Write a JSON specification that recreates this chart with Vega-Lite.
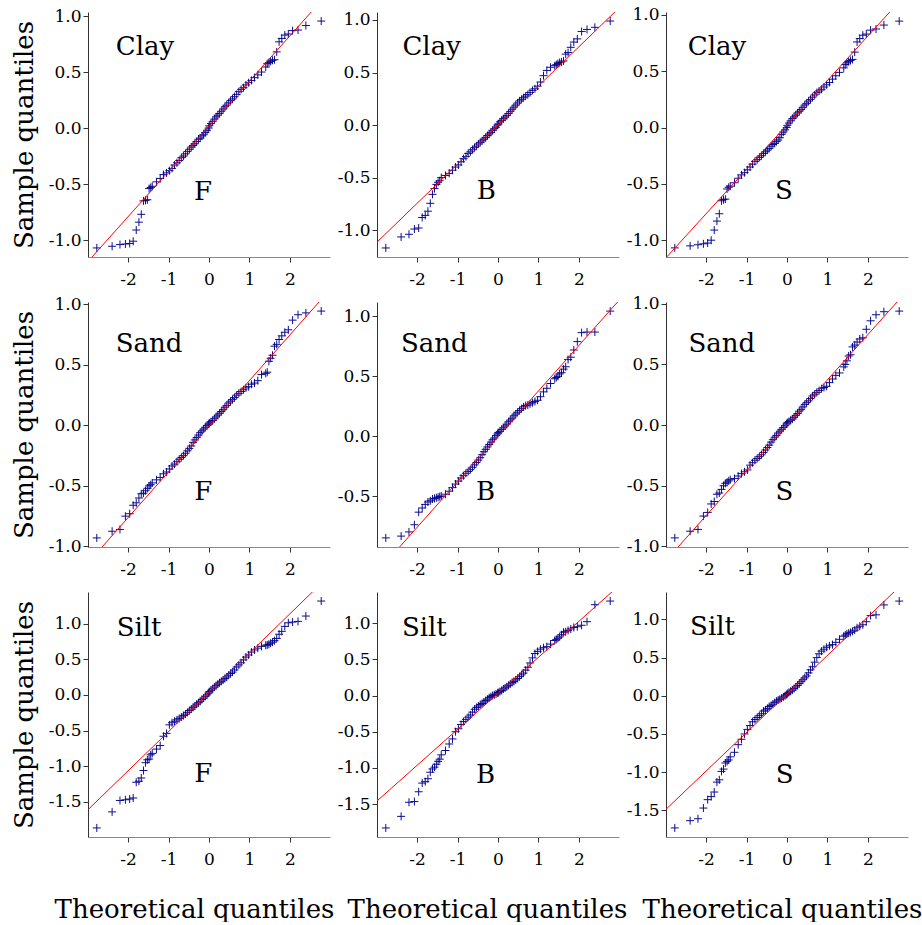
{
"$schema": "https://vega.github.io/schema/vega-lite/v6.json",
"padding": {"left": 11, "top": 5, "right": 0, "bottom": 0},
"bounds": "flush",
"spacing": {"row": 45, "column": 47},
"columns": 3,
"config": {
  "view": {"stroke": null},
  "font": "DejaVu Serif",
  "locale": {"number": {"decimal": ".", "thousands": ",", "grouping": [3], "currency": ["$", ""], "minus": "-"}},
  "axis": {"grid": false, "labelFont": "DejaVu Serif", "labelFontSize": 17, "labelColor": "#000", "titleFont": "DejaVu Serif", "titleFontSize": 26, "titleFontWeight": "normal", "titleColor": "#000", "tickSize": 5, "tickColor": "#333", "domainColor": "#333", "labelFlush": false},
  "axisX": {"labelPadding": 9, "titlePadding": 29, "domainColor": "#888"},
  "axisY": {"labelPadding": 2, "titlePadding": 11},
  "point": {"shape": "M-1,0H1M0,-1V1", "size": 64, "filled": false, "color": "#00008b", "strokeWidth": 1, "opacity": 0.95}
},
"datasets": {
"ql": [
{"p":1,"x1":-3,"y1":-1.195,"x2":3,"y2":1.227},
{"p":2,"x1":-3,"y1":-1.118,"x2":3,"y2":1.118},
{"p":3,"x1":-3,"y1":-1.160,"x2":3,"y2":1.208},
{"p":4,"x1":-3,"y1":-1.140,"x2":3,"y2":1.126},
{"p":5,"x1":-3,"y1":-1.142,"x2":3,"y2":1.138},
{"p":6,"x1":-3,"y1":-1.12,"x2":3,"y2":1.12},
{"p":7,"x1":-3,"y1":-1.615,"x2":3,"y2":1.687},
{"p":8,"x1":-3,"y1":-1.463,"x2":3,"y2":1.523},
{"p":9,"x1":-3,"y1":-1.491,"x2":3,"y2":1.539}
],
"clayF": [
{"x":-2.773,"y":-1.07},{"x":-2.394,"y":-1.055},{"x":-2.2,"y":-1.04},{"x":-2.066,"y":-1.035},{"x":-1.96,"y":-1.03},{"x":-1.873,"y":-1.01},{"x":-1.798,"y":-0.91},{"x":-1.732,"y":-0.84},{"x":-1.673,"y":-0.77},{"x":-1.619,"y":-0.65},{"x":-1.569,"y":-0.645},{"x":-1.523,"y":-0.64},{"x":-1.48,"y":-0.54},{"x":-1.44,"y":-0.53},{"x":-1.402,"y":-0.52},{"x":-1.298,"y":-0.48},{"x":-1.206,"y":-0.45},{"x":-1.124,"y":-0.415},{"x":-1.049,"y":-0.4},{"x":-0.979,"y":-0.38},{"x":-0.913,"y":-0.36},{"x":-0.852,"y":-0.33},{"x":-0.793,"y":-0.31},{"x":-0.737,"y":-0.29},{"x":-0.683,"y":-0.265},{"x":-0.631,"y":-0.25},{"x":-0.581,"y":-0.23},{"x":-0.533,"y":-0.21},{"x":-0.485,"y":-0.19},{"x":-0.439,"y":-0.17},{"x":-0.393,"y":-0.155},{"x":-0.349,"y":-0.14},{"x":-0.304,"y":-0.12},{"x":-0.261,"y":-0.1},{"x":-0.218,"y":-0.09},{"x":-0.175,"y":-0.07},{"x":-0.133,"y":-0.06},{"x":-0.091,"y":-0.04},{"x":-0.049,"y":-0.02},{"x":-0.007,"y":0},
{"x":0.007,"y":0.02},{"x":0.049,"y":0.04},{"x":0.091,"y":0.06},{"x":0.133,"y":0.08},{"x":0.175,"y":0.1},{"x":0.218,"y":0.115},{"x":0.261,"y":0.13},{"x":0.304,"y":0.15},{"x":0.349,"y":0.17},{"x":0.393,"y":0.19},{"x":0.439,"y":0.205},{"x":0.485,"y":0.225},{"x":0.533,"y":0.245},{"x":0.581,"y":0.26},{"x":0.631,"y":0.28},{"x":0.683,"y":0.3},{"x":0.737,"y":0.325},{"x":0.793,"y":0.345},{"x":0.852,"y":0.36},{"x":0.913,"y":0.385},{"x":0.979,"y":0.405},{"x":1.049,"y":0.425},{"x":1.124,"y":0.45},{"x":1.206,"y":0.475},{"x":1.298,"y":0.5},{"x":1.402,"y":0.545},{"x":1.44,"y":0.575},{"x":1.48,"y":0.585},{"x":1.523,"y":0.595},{"x":1.569,"y":0.605},{"x":1.619,"y":0.61},{"x":1.673,"y":0.68},{"x":1.732,"y":0.77},{"x":1.798,"y":0.8},{"x":1.873,"y":0.83},{"x":1.96,"y":0.84},{"x":2.066,"y":0.87},{"x":2.2,"y":0.875},{"x":2.394,"y":0.915},{"x":2.773,"y":0.955}
],
"clayB": [
{"x":-2.773,"y":-1.17},{"x":-2.394,"y":-1.065},{"x":-2.2,"y":-1.04},{"x":-2.066,"y":-0.99},{"x":-1.96,"y":-0.98},{"x":-1.873,"y":-0.88},{"x":-1.798,"y":-0.86},{"x":-1.732,"y":-0.82},{"x":-1.673,"y":-0.745},{"x":-1.619,"y":-0.66},{"x":-1.569,"y":-0.605},{"x":-1.523,"y":-0.565},{"x":-1.48,"y":-0.545},{"x":-1.44,"y":-0.53},{"x":-1.402,"y":-0.5},{"x":-1.298,"y":-0.48},{"x":-1.206,"y":-0.46},{"x":-1.124,"y":-0.43},{"x":-1.049,"y":-0.4},{"x":-0.979,"y":-0.38},{"x":-0.913,"y":-0.35},{"x":-0.852,"y":-0.32},{"x":-0.793,"y":-0.3},{"x":-0.737,"y":-0.27},{"x":-0.683,"y":-0.255},{"x":-0.631,"y":-0.235},{"x":-0.581,"y":-0.215},{"x":-0.533,"y":-0.2},{"x":-0.485,"y":-0.18},{"x":-0.439,"y":-0.165},{"x":-0.393,"y":-0.15},{"x":-0.349,"y":-0.135},{"x":-0.304,"y":-0.12},{"x":-0.261,"y":-0.1},{"x":-0.218,"y":-0.085},{"x":-0.175,"y":-0.07},{"x":-0.133,"y":-0.05},{"x":-0.091,"y":-0.035},{"x":-0.049,"y":-0.02},{"x":-0.007,"y":0},
{"x":0.007,"y":0.01},{"x":0.049,"y":0.03},{"x":0.091,"y":0.045},{"x":0.133,"y":0.06},{"x":0.175,"y":0.075},{"x":0.218,"y":0.09},{"x":0.261,"y":0.11},{"x":0.304,"y":0.13},{"x":0.349,"y":0.15},{"x":0.393,"y":0.17},{"x":0.439,"y":0.19},{"x":0.485,"y":0.21},{"x":0.533,"y":0.23},{"x":0.581,"y":0.245},{"x":0.631,"y":0.26},{"x":0.683,"y":0.275},{"x":0.737,"y":0.29},{"x":0.793,"y":0.31},{"x":0.852,"y":0.33},{"x":0.913,"y":0.345},{"x":0.979,"y":0.37},{"x":1.049,"y":0.41},{"x":1.124,"y":0.47},{"x":1.206,"y":0.52},{"x":1.298,"y":0.55},{"x":1.402,"y":0.565},{"x":1.44,"y":0.575},{"x":1.48,"y":0.585},{"x":1.523,"y":0.595},{"x":1.569,"y":0.6},{"x":1.619,"y":0.61},{"x":1.673,"y":0.675},{"x":1.732,"y":0.69},{"x":1.798,"y":0.74},{"x":1.873,"y":0.79},{"x":1.96,"y":0.82},{"x":2.066,"y":0.89},{"x":2.2,"y":0.91},{"x":2.394,"y":0.93},{"x":2.773,"y":0.99}
],
"clayS": [
{"x":-2.773,"y":-1.068},{"x":-2.394,"y":-1.05},{"x":-2.2,"y":-1.04},{"x":-2.066,"y":-1.032},{"x":-1.96,"y":-1.025},{"x":-1.873,"y":-1.0},{"x":-1.798,"y":-0.91},{"x":-1.732,"y":-0.83},{"x":-1.673,"y":-0.765},{"x":-1.619,"y":-0.65},{"x":-1.569,"y":-0.64},{"x":-1.523,"y":-0.635},{"x":-1.48,"y":-0.545},{"x":-1.44,"y":-0.53},{"x":-1.402,"y":-0.52},{"x":-1.298,"y":-0.49},{"x":-1.206,"y":-0.45},{"x":-1.124,"y":-0.42},{"x":-1.049,"y":-0.4},{"x":-0.979,"y":-0.375},{"x":-0.913,"y":-0.35},{"x":-0.852,"y":-0.325},{"x":-0.793,"y":-0.3},{"x":-0.737,"y":-0.285},{"x":-0.683,"y":-0.265},{"x":-0.631,"y":-0.25},{"x":-0.581,"y":-0.23},{"x":-0.533,"y":-0.215},{"x":-0.485,"y":-0.2},{"x":-0.439,"y":-0.185},{"x":-0.393,"y":-0.165},{"x":-0.349,"y":-0.15},{"x":-0.304,"y":-0.14},{"x":-0.261,"y":-0.125},{"x":-0.218,"y":-0.11},{"x":-0.175,"y":-0.09},{"x":-0.133,"y":-0.06},{"x":-0.091,"y":-0.04},{"x":-0.049,"y":-0.02},{"x":-0.007,"y":0},
{"x":0.007,"y":0.02},{"x":0.049,"y":0.04},{"x":0.091,"y":0.06},{"x":0.133,"y":0.08},{"x":0.175,"y":0.095},{"x":0.218,"y":0.11},{"x":0.261,"y":0.13},{"x":0.304,"y":0.145},{"x":0.349,"y":0.16},{"x":0.393,"y":0.18},{"x":0.439,"y":0.2},{"x":0.485,"y":0.215},{"x":0.533,"y":0.235},{"x":0.581,"y":0.25},{"x":0.631,"y":0.27},{"x":0.683,"y":0.29},{"x":0.737,"y":0.31},{"x":0.793,"y":0.325},{"x":0.852,"y":0.34},{"x":0.913,"y":0.36},{"x":0.979,"y":0.38},{"x":1.049,"y":0.4},{"x":1.124,"y":0.43},{"x":1.206,"y":0.46},{"x":1.298,"y":0.49},{"x":1.402,"y":0.53},{"x":1.44,"y":0.56},{"x":1.48,"y":0.575},{"x":1.523,"y":0.585},{"x":1.569,"y":0.595},{"x":1.619,"y":0.605},{"x":1.673,"y":0.67},{"x":1.732,"y":0.76},{"x":1.798,"y":0.79},{"x":1.873,"y":0.82},{"x":1.96,"y":0.83},{"x":2.066,"y":0.865},{"x":2.2,"y":0.875},{"x":2.394,"y":0.91},{"x":2.773,"y":0.945}
],
"sandF": [
{"x":-2.773,"y":-0.93},{"x":-2.394,"y":-0.875},{"x":-2.2,"y":-0.86},{"x":-2.066,"y":-0.75},{"x":-1.96,"y":-0.73},{"x":-1.873,"y":-0.66},{"x":-1.798,"y":-0.64},{"x":-1.732,"y":-0.6},{"x":-1.673,"y":-0.565},{"x":-1.619,"y":-0.56},{"x":-1.569,"y":-0.54},{"x":-1.523,"y":-0.52},{"x":-1.48,"y":-0.5},{"x":-1.44,"y":-0.49},{"x":-1.402,"y":-0.475},{"x":-1.298,"y":-0.45},{"x":-1.206,"y":-0.43},{"x":-1.124,"y":-0.4},{"x":-1.049,"y":-0.385},{"x":-0.979,"y":-0.36},{"x":-0.913,"y":-0.335},{"x":-0.852,"y":-0.32},{"x":-0.793,"y":-0.3},{"x":-0.737,"y":-0.28},{"x":-0.683,"y":-0.265},{"x":-0.631,"y":-0.25},{"x":-0.581,"y":-0.23},{"x":-0.533,"y":-0.21},{"x":-0.485,"y":-0.19},{"x":-0.439,"y":-0.17},{"x":-0.393,"y":-0.14},{"x":-0.349,"y":-0.12},{"x":-0.304,"y":-0.1},{"x":-0.261,"y":-0.08},{"x":-0.218,"y":-0.06},{"x":-0.175,"y":-0.045},{"x":-0.133,"y":-0.03},{"x":-0.091,"y":-0.015},{"x":-0.049,"y":0},{"x":-0.007,"y":0.01},
{"x":0.007,"y":0.02},{"x":0.049,"y":0.03},{"x":0.091,"y":0.04},{"x":0.133,"y":0.055},{"x":0.175,"y":0.07},{"x":0.218,"y":0.085},{"x":0.261,"y":0.1},{"x":0.304,"y":0.115},{"x":0.349,"y":0.13},{"x":0.393,"y":0.15},{"x":0.439,"y":0.165},{"x":0.485,"y":0.185},{"x":0.533,"y":0.2},{"x":0.581,"y":0.215},{"x":0.631,"y":0.23},{"x":0.683,"y":0.25},{"x":0.737,"y":0.265},{"x":0.793,"y":0.28},{"x":0.852,"y":0.295},{"x":0.913,"y":0.31},{"x":0.979,"y":0.32},{"x":1.049,"y":0.34},{"x":1.124,"y":0.35},{"x":1.206,"y":0.37},{"x":1.298,"y":0.42},{"x":1.402,"y":0.43},{"x":1.44,"y":0.44},{"x":1.48,"y":0.53},{"x":1.523,"y":0.555},{"x":1.569,"y":0.58},{"x":1.619,"y":0.655},{"x":1.673,"y":0.67},{"x":1.732,"y":0.71},{"x":1.798,"y":0.74},{"x":1.873,"y":0.77},{"x":1.96,"y":0.79},{"x":2.066,"y":0.87},{"x":2.2,"y":0.915},{"x":2.394,"y":0.93},{"x":2.773,"y":0.945}
],
"sandB": [
{"x":-2.773,"y":-0.85},{"x":-2.394,"y":-0.835},{"x":-2.2,"y":-0.8},{"x":-2.066,"y":-0.74},{"x":-1.96,"y":-0.635},{"x":-1.873,"y":-0.6},{"x":-1.798,"y":-0.57},{"x":-1.732,"y":-0.55},{"x":-1.673,"y":-0.54},{"x":-1.619,"y":-0.525},{"x":-1.569,"y":-0.52},{"x":-1.523,"y":-0.515},{"x":-1.48,"y":-0.51},{"x":-1.44,"y":-0.505},{"x":-1.402,"y":-0.5},{"x":-1.298,"y":-0.485},{"x":-1.206,"y":-0.46},{"x":-1.124,"y":-0.43},{"x":-1.049,"y":-0.4},{"x":-0.979,"y":-0.375},{"x":-0.913,"y":-0.35},{"x":-0.852,"y":-0.33},{"x":-0.793,"y":-0.31},{"x":-0.737,"y":-0.295},{"x":-0.683,"y":-0.28},{"x":-0.631,"y":-0.26},{"x":-0.581,"y":-0.24},{"x":-0.533,"y":-0.22},{"x":-0.485,"y":-0.2},{"x":-0.439,"y":-0.18},{"x":-0.393,"y":-0.155},{"x":-0.349,"y":-0.13},{"x":-0.304,"y":-0.11},{"x":-0.261,"y":-0.09},{"x":-0.218,"y":-0.07},{"x":-0.175,"y":-0.05},{"x":-0.133,"y":-0.03},{"x":-0.091,"y":-0.015},{"x":-0.049,"y":0.005},{"x":-0.007,"y":0.02},
{"x":0.007,"y":0.03},{"x":0.049,"y":0.04},{"x":0.091,"y":0.055},{"x":0.133,"y":0.07},{"x":0.175,"y":0.085},{"x":0.218,"y":0.1},{"x":0.261,"y":0.12},{"x":0.304,"y":0.135},{"x":0.349,"y":0.15},{"x":0.393,"y":0.17},{"x":0.439,"y":0.185},{"x":0.485,"y":0.2},{"x":0.533,"y":0.215},{"x":0.581,"y":0.23},{"x":0.631,"y":0.245},{"x":0.683,"y":0.255},{"x":0.737,"y":0.26},{"x":0.793,"y":0.27},{"x":0.852,"y":0.28},{"x":0.913,"y":0.29},{"x":0.979,"y":0.3},{"x":1.049,"y":0.33},{"x":1.124,"y":0.37},{"x":1.206,"y":0.4},{"x":1.298,"y":0.44},{"x":1.402,"y":0.48},{"x":1.44,"y":0.49},{"x":1.48,"y":0.5},{"x":1.523,"y":0.52},{"x":1.569,"y":0.53},{"x":1.619,"y":0.56},{"x":1.673,"y":0.58},{"x":1.732,"y":0.64},{"x":1.798,"y":0.66},{"x":1.873,"y":0.72},{"x":1.96,"y":0.79},{"x":2.066,"y":0.865},{"x":2.2,"y":0.87},{"x":2.394,"y":0.87},{"x":2.773,"y":1.045}
],
"sandS": [
{"x":-2.773,"y":-0.93},{"x":-2.394,"y":-0.875},{"x":-2.2,"y":-0.86},{"x":-2.066,"y":-0.75},{"x":-1.96,"y":-0.72},{"x":-1.873,"y":-0.65},{"x":-1.798,"y":-0.63},{"x":-1.732,"y":-0.57},{"x":-1.673,"y":-0.56},{"x":-1.619,"y":-0.53},{"x":-1.569,"y":-0.5},{"x":-1.523,"y":-0.48},{"x":-1.48,"y":-0.47},{"x":-1.44,"y":-0.46},{"x":-1.402,"y":-0.45},{"x":-1.298,"y":-0.44},{"x":-1.206,"y":-0.42},{"x":-1.124,"y":-0.4},{"x":-1.049,"y":-0.385},{"x":-0.979,"y":-0.37},{"x":-0.913,"y":-0.33},{"x":-0.852,"y":-0.31},{"x":-0.793,"y":-0.29},{"x":-0.737,"y":-0.275},{"x":-0.683,"y":-0.26},{"x":-0.631,"y":-0.245},{"x":-0.581,"y":-0.225},{"x":-0.533,"y":-0.205},{"x":-0.485,"y":-0.185},{"x":-0.439,"y":-0.165},{"x":-0.393,"y":-0.14},{"x":-0.349,"y":-0.12},{"x":-0.304,"y":-0.1},{"x":-0.261,"y":-0.085},{"x":-0.218,"y":-0.065},{"x":-0.175,"y":-0.05},{"x":-0.133,"y":-0.035},{"x":-0.091,"y":-0.02},{"x":-0.049,"y":-0.005},{"x":-0.007,"y":0.01},
{"x":0.007,"y":0.02},{"x":0.049,"y":0.03},{"x":0.091,"y":0.04},{"x":0.133,"y":0.05},{"x":0.175,"y":0.065},{"x":0.218,"y":0.08},{"x":0.261,"y":0.095},{"x":0.304,"y":0.115},{"x":0.349,"y":0.13},{"x":0.393,"y":0.15},{"x":0.439,"y":0.17},{"x":0.485,"y":0.185},{"x":0.533,"y":0.2},{"x":0.581,"y":0.22},{"x":0.631,"y":0.24},{"x":0.683,"y":0.255},{"x":0.737,"y":0.27},{"x":0.793,"y":0.285},{"x":0.852,"y":0.3},{"x":0.913,"y":0.31},{"x":0.979,"y":0.32},{"x":1.049,"y":0.35},{"x":1.124,"y":0.38},{"x":1.206,"y":0.41},{"x":1.298,"y":0.43},{"x":1.402,"y":0.48},{"x":1.44,"y":0.5},{"x":1.48,"y":0.53},{"x":1.523,"y":0.57},{"x":1.569,"y":0.58},{"x":1.619,"y":0.645},{"x":1.673,"y":0.66},{"x":1.732,"y":0.685},{"x":1.798,"y":0.71},{"x":1.873,"y":0.72},{"x":1.96,"y":0.79},{"x":2.066,"y":0.86},{"x":2.2,"y":0.91},{"x":2.394,"y":0.935},{"x":2.773,"y":0.94}
],
"siltF": [
{"x":-2.773,"y":-1.865},{"x":-2.394,"y":-1.64},{"x":-2.2,"y":-1.48},{"x":-2.066,"y":-1.47},{"x":-1.96,"y":-1.46},{"x":-1.873,"y":-1.445},{"x":-1.798,"y":-1.225},{"x":-1.732,"y":-1.21},{"x":-1.673,"y":-1.165},{"x":-1.619,"y":-1.06},{"x":-1.569,"y":-0.95},{"x":-1.523,"y":-0.91},{"x":-1.48,"y":-0.9},{"x":-1.44,"y":-0.84},{"x":-1.402,"y":-0.82},{"x":-1.298,"y":-0.76},{"x":-1.206,"y":-0.71},{"x":-1.124,"y":-0.58},{"x":-1.049,"y":-0.54},{"x":-0.979,"y":-0.42},{"x":-0.913,"y":-0.39},{"x":-0.852,"y":-0.37},{"x":-0.793,"y":-0.35},{"x":-0.737,"y":-0.33},{"x":-0.683,"y":-0.31},{"x":-0.631,"y":-0.29},{"x":-0.581,"y":-0.27},{"x":-0.533,"y":-0.245},{"x":-0.485,"y":-0.22},{"x":-0.439,"y":-0.2},{"x":-0.393,"y":-0.175},{"x":-0.349,"y":-0.155},{"x":-0.304,"y":-0.13},{"x":-0.261,"y":-0.11},{"x":-0.218,"y":-0.09},{"x":-0.175,"y":-0.065},{"x":-0.133,"y":-0.045},{"x":-0.091,"y":-0.02},{"x":-0.049,"y":0},{"x":-0.007,"y":0.025},
{"x":0.007,"y":0.045},{"x":0.049,"y":0.065},{"x":0.091,"y":0.085},{"x":0.133,"y":0.11},{"x":0.175,"y":0.13},{"x":0.218,"y":0.15},{"x":0.261,"y":0.17},{"x":0.304,"y":0.19},{"x":0.349,"y":0.21},{"x":0.393,"y":0.23},{"x":0.439,"y":0.25},{"x":0.485,"y":0.275},{"x":0.533,"y":0.3},{"x":0.581,"y":0.32},{"x":0.631,"y":0.35},{"x":0.683,"y":0.39},{"x":0.737,"y":0.42},{"x":0.793,"y":0.45},{"x":0.852,"y":0.49},{"x":0.913,"y":0.53},{"x":0.979,"y":0.56},{"x":1.049,"y":0.6},{"x":1.124,"y":0.63},{"x":1.206,"y":0.655},{"x":1.298,"y":0.68},{"x":1.402,"y":0.695},{"x":1.44,"y":0.7},{"x":1.48,"y":0.71},{"x":1.523,"y":0.725},{"x":1.569,"y":0.74},{"x":1.619,"y":0.76},{"x":1.673,"y":0.79},{"x":1.732,"y":0.85},{"x":1.798,"y":0.89},{"x":1.873,"y":0.96},{"x":1.96,"y":1.01},{"x":2.066,"y":1.02},{"x":2.2,"y":1.03},{"x":2.394,"y":1.105},{"x":2.773,"y":1.315}
],
"siltB": [
{"x":-2.773,"y":-1.83},{"x":-2.394,"y":-1.67},{"x":-2.2,"y":-1.475},{"x":-2.066,"y":-1.465},{"x":-1.96,"y":-1.33},{"x":-1.873,"y":-1.21},{"x":-1.798,"y":-1.19},{"x":-1.732,"y":-1.15},{"x":-1.673,"y":-1.06},{"x":-1.619,"y":-1.015},{"x":-1.569,"y":-0.99},{"x":-1.523,"y":-0.95},{"x":-1.48,"y":-0.91},{"x":-1.44,"y":-0.88},{"x":-1.402,"y":-0.82},{"x":-1.298,"y":-0.76},{"x":-1.206,"y":-0.67},{"x":-1.124,"y":-0.6},{"x":-1.049,"y":-0.5},{"x":-0.979,"y":-0.46},{"x":-0.913,"y":-0.4},{"x":-0.852,"y":-0.36},{"x":-0.793,"y":-0.33},{"x":-0.737,"y":-0.3},{"x":-0.683,"y":-0.27},{"x":-0.631,"y":-0.23},{"x":-0.581,"y":-0.19},{"x":-0.533,"y":-0.165},{"x":-0.485,"y":-0.145},{"x":-0.439,"y":-0.125},{"x":-0.393,"y":-0.11},{"x":-0.349,"y":-0.09},{"x":-0.304,"y":-0.07},{"x":-0.261,"y":-0.05},{"x":-0.218,"y":-0.03},{"x":-0.175,"y":-0.015},{"x":-0.133,"y":0},{"x":-0.091,"y":0.01},{"x":-0.049,"y":0.02},{"x":-0.007,"y":0.035},
{"x":0.007,"y":0.04},{"x":0.049,"y":0.055},{"x":0.091,"y":0.07},{"x":0.133,"y":0.09},{"x":0.175,"y":0.105},{"x":0.218,"y":0.12},{"x":0.261,"y":0.14},{"x":0.304,"y":0.16},{"x":0.349,"y":0.18},{"x":0.393,"y":0.195},{"x":0.439,"y":0.215},{"x":0.485,"y":0.235},{"x":0.533,"y":0.26},{"x":0.581,"y":0.285},{"x":0.631,"y":0.31},{"x":0.683,"y":0.35},{"x":0.737,"y":0.39},{"x":0.793,"y":0.45},{"x":0.852,"y":0.52},{"x":0.913,"y":0.58},{"x":0.979,"y":0.61},{"x":1.049,"y":0.64},{"x":1.124,"y":0.66},{"x":1.206,"y":0.675},{"x":1.298,"y":0.71},{"x":1.402,"y":0.76},{"x":1.44,"y":0.775},{"x":1.48,"y":0.79},{"x":1.523,"y":0.81},{"x":1.569,"y":0.84},{"x":1.619,"y":0.875},{"x":1.673,"y":0.88},{"x":1.732,"y":0.9},{"x":1.798,"y":0.92},{"x":1.873,"y":0.94},{"x":1.96,"y":0.95},{"x":2.066,"y":0.97},{"x":2.2,"y":1.02},{"x":2.394,"y":1.255},{"x":2.773,"y":1.305}
],
"siltS": [
{"x":-2.773,"y":-1.73},{"x":-2.394,"y":-1.635},{"x":-2.2,"y":-1.61},{"x":-2.066,"y":-1.47},{"x":-1.96,"y":-1.36},{"x":-1.873,"y":-1.32},{"x":-1.798,"y":-1.26},{"x":-1.732,"y":-1.13},{"x":-1.673,"y":-1.1},{"x":-1.619,"y":-0.99},{"x":-1.569,"y":-0.96},{"x":-1.523,"y":-0.88},{"x":-1.48,"y":-0.86},{"x":-1.44,"y":-0.84},{"x":-1.402,"y":-0.8},{"x":-1.298,"y":-0.74},{"x":-1.206,"y":-0.64},{"x":-1.124,"y":-0.57},{"x":-1.049,"y":-0.5},{"x":-0.979,"y":-0.44},{"x":-0.913,"y":-0.39},{"x":-0.852,"y":-0.34},{"x":-0.793,"y":-0.31},{"x":-0.737,"y":-0.285},{"x":-0.683,"y":-0.26},{"x":-0.631,"y":-0.235},{"x":-0.581,"y":-0.2},{"x":-0.533,"y":-0.185},{"x":-0.485,"y":-0.165},{"x":-0.439,"y":-0.14},{"x":-0.393,"y":-0.125},{"x":-0.349,"y":-0.11},{"x":-0.304,"y":-0.09},{"x":-0.261,"y":-0.07},{"x":-0.218,"y":-0.055},{"x":-0.175,"y":-0.045},{"x":-0.133,"y":-0.03},{"x":-0.091,"y":-0.015},{"x":-0.049,"y":0},{"x":-0.007,"y":0.015},
{"x":0.007,"y":0.03},{"x":0.049,"y":0.045},{"x":0.091,"y":0.06},{"x":0.133,"y":0.075},{"x":0.175,"y":0.095},{"x":0.218,"y":0.115},{"x":0.261,"y":0.135},{"x":0.304,"y":0.16},{"x":0.349,"y":0.185},{"x":0.393,"y":0.21},{"x":0.439,"y":0.235},{"x":0.485,"y":0.26},{"x":0.533,"y":0.3},{"x":0.581,"y":0.34},{"x":0.631,"y":0.38},{"x":0.683,"y":0.44},{"x":0.737,"y":0.5},{"x":0.793,"y":0.55},{"x":0.852,"y":0.585},{"x":0.913,"y":0.61},{"x":0.979,"y":0.635},{"x":1.049,"y":0.655},{"x":1.124,"y":0.67},{"x":1.206,"y":0.7},{"x":1.298,"y":0.74},{"x":1.402,"y":0.78},{"x":1.44,"y":0.795},{"x":1.48,"y":0.81},{"x":1.523,"y":0.82},{"x":1.569,"y":0.83},{"x":1.619,"y":0.845},{"x":1.673,"y":0.86},{"x":1.732,"y":0.89},{"x":1.798,"y":0.91},{"x":1.873,"y":0.93},{"x":1.96,"y":0.97},{"x":2.066,"y":1.05},{"x":2.2,"y":1.06},{"x":2.394,"y":1.19},{"x":2.773,"y":1.24}
]
},
"concat": [
{"width":242,"height":245,"layer":[
 {"data":{"name":"clayF"},"mark":{"type":"point"},
  "encoding":{"x":{"field":"x","type":"quantitative","scale":{"domain":[-2.99,2.99],"nice":false,"zero":false},"axis":{"values":[-2,-1,0,1,2],"format":"d","title":null}},
  "y":{"field":"y","type":"quantitative","scale":{"domain":[-1.151,1.036],"nice":false,"zero":false},"axis":{"values":[-1,-0.5,0,0.5,1],"format":".1f","title":"Sample quantiles"}}}},
 {"data":{"name":"ql"},"transform":[{"filter":"datum.p==1"}],"mark":{"type":"rule","color":"#ff0000","strokeWidth":1,"clip":true},
  "encoding":{"x":{"field":"x1","type":"quantitative"},"y":{"field":"y1","type":"quantitative"},"x2":{"field":"x2"},"y2":{"field":"y2"}}},
 {"data":{"values":[{"t":"Clay"}]},"mark":{"type":"text","fontSize":26,"font":"DejaVu Serif","color":"#000","align":"center","baseline":"middle"},
  "encoding":{"x":{"datum":-1.58,"type":"quantitative"},"y":{"datum":0.722,"type":"quantitative"},"text":{"field":"t"}}},
 {"data":{"values":[{"t":"F"}]},"mark":{"type":"text","fontSize":26,"font":"DejaVu Serif","color":"#000","align":"center","baseline":"middle"},
  "encoding":{"x":{"datum":-0.15,"type":"quantitative"},"y":{"datum":-0.57,"type":"quantitative"},"text":{"field":"t"}}}
]},
{"width":242,"height":245,"layer":[
 {"data":{"name":"clayB"},"mark":{"type":"point"},
  "encoding":{"x":{"field":"x","type":"quantitative","scale":{"domain":[-2.99,2.99],"nice":false,"zero":false},"axis":{"values":[-2,-1,0,1,2],"format":"d","title":null}},
  "y":{"field":"y","type":"quantitative","scale":{"domain":[-1.256,1.076],"nice":false,"zero":false},"axis":{"values":[-1,-0.5,0,0.5,1],"format":".1f","title":null}}}},
 {"data":{"name":"ql"},"transform":[{"filter":"datum.p==2"}],"mark":{"type":"rule","color":"#ff0000","strokeWidth":1,"clip":true},
  "encoding":{"x":{"field":"x1","type":"quantitative"},"y":{"field":"y1","type":"quantitative"},"x2":{"field":"x2"},"y2":{"field":"y2"}}},
 {"data":{"values":[{"t":"Clay"}]},"mark":{"type":"text","fontSize":26,"font":"DejaVu Serif","color":"#000","align":"center","baseline":"middle"},
  "encoding":{"x":{"datum":-1.64,"type":"quantitative"},"y":{"datum":0.746,"type":"quantitative"},"text":{"field":"t"}}},
 {"data":{"values":[{"t":"B"}]},"mark":{"type":"text","fontSize":26,"font":"DejaVu Serif","color":"#000","align":"center","baseline":"middle"},
  "encoding":{"x":{"datum":-0.29,"type":"quantitative"},"y":{"datum":-0.628,"type":"quantitative"},"text":{"field":"t"}}}
]},
{"width":242,"height":245,"layer":[
 {"data":{"name":"clayS"},"mark":{"type":"point"},
  "encoding":{"x":{"field":"x","type":"quantitative","scale":{"domain":[-2.99,2.99],"nice":false,"zero":false},"axis":{"values":[-2,-1,0,1,2],"format":"d","title":null}},
  "y":{"field":"y","type":"quantitative","scale":{"domain":[-1.149,1.026],"nice":false,"zero":false},"axis":{"values":[-1,-0.5,0,0.5,1],"format":".1f","title":null}}}},
 {"data":{"name":"ql"},"transform":[{"filter":"datum.p==3"}],"mark":{"type":"rule","color":"#ff0000","strokeWidth":1,"clip":true},
  "encoding":{"x":{"field":"x1","type":"quantitative"},"y":{"field":"y1","type":"quantitative"},"x2":{"field":"x2"},"y2":{"field":"y2"}}},
 {"data":{"values":[{"t":"Clay"}]},"mark":{"type":"text","fontSize":26,"font":"DejaVu Serif","color":"#000","align":"center","baseline":"middle"},
  "encoding":{"x":{"datum":-1.73,"type":"quantitative"},"y":{"datum":0.718,"type":"quantitative"},"text":{"field":"t"}}},
 {"data":{"values":[{"t":"S"}]},"mark":{"type":"text","fontSize":26,"font":"DejaVu Serif","color":"#000","align":"center","baseline":"middle"},
  "encoding":{"x":{"datum":-0.075,"type":"quantitative"},"y":{"datum":-0.564,"type":"quantitative"},"text":{"field":"t"}}}
]},
{"width":242,"height":245,"layer":[
 {"data":{"name":"sandF"},"mark":{"type":"point"},
  "encoding":{"x":{"field":"x","type":"quantitative","scale":{"domain":[-2.99,2.99],"nice":false,"zero":false},"axis":{"values":[-2,-1,0,1,2],"format":"d","title":null}},
  "y":{"field":"y","type":"quantitative","scale":{"domain":[-1.005,1.02],"nice":false,"zero":false},"axis":{"values":[-1,-0.5,0,0.5,1],"format":".1f","title":"Sample quantiles"}}}},
 {"data":{"name":"ql"},"transform":[{"filter":"datum.p==4"}],"mark":{"type":"rule","color":"#ff0000","strokeWidth":1,"clip":true},
  "encoding":{"x":{"field":"x1","type":"quantitative"},"y":{"field":"y1","type":"quantitative"},"x2":{"field":"x2"},"y2":{"field":"y2"}}},
 {"data":{"values":[{"t":"Sand"}]},"mark":{"type":"text","fontSize":26,"font":"DejaVu Serif","color":"#000","align":"center","baseline":"middle"},
  "encoding":{"x":{"datum":-1.48,"type":"quantitative"},"y":{"datum":0.669,"type":"quantitative"},"text":{"field":"t"}}},
 {"data":{"values":[{"t":"F"}]},"mark":{"type":"text","fontSize":26,"font":"DejaVu Serif","color":"#000","align":"center","baseline":"middle"},
  "encoding":{"x":{"datum":-0.144,"type":"quantitative"},"y":{"datum":-0.55,"type":"quantitative"},"text":{"field":"t"}}}
]},
{"width":242,"height":245,"layer":[
 {"data":{"name":"sandB"},"mark":{"type":"point"},
  "encoding":{"x":{"field":"x","type":"quantitative","scale":{"domain":[-2.99,2.99],"nice":false,"zero":false},"axis":{"values":[-2,-1,0,1,2],"format":"d","title":null}},
  "y":{"field":"y","type":"quantitative","scale":{"domain":[-0.926,1.121],"nice":false,"zero":false},"axis":{"values":[-0.5,0,0.5,1],"format":".1f","title":null}}}},
 {"data":{"name":"ql"},"transform":[{"filter":"datum.p==5"}],"mark":{"type":"rule","color":"#ff0000","strokeWidth":1,"clip":true},
  "encoding":{"x":{"field":"x1","type":"quantitative"},"y":{"field":"y1","type":"quantitative"},"x2":{"field":"x2"},"y2":{"field":"y2"}}},
 {"data":{"values":[{"t":"Sand"}]},"mark":{"type":"text","fontSize":26,"font":"DejaVu Serif","color":"#000","align":"center","baseline":"middle"},
  "encoding":{"x":{"datum":-1.573,"type":"quantitative"},"y":{"datum":0.772,"type":"quantitative"},"text":{"field":"t"}}},
 {"data":{"values":[{"t":"B"}]},"mark":{"type":"text","fontSize":26,"font":"DejaVu Serif","color":"#000","align":"center","baseline":"middle"},
  "encoding":{"x":{"datum":-0.306,"type":"quantitative"},"y":{"datum":-0.465,"type":"quantitative"},"text":{"field":"t"}}}
]},
{"width":242,"height":245,"layer":[
 {"data":{"name":"sandS"},"mark":{"type":"point"},
  "encoding":{"x":{"field":"x","type":"quantitative","scale":{"domain":[-2.99,2.99],"nice":false,"zero":false},"axis":{"values":[-2,-1,0,1,2],"format":"d","title":null}},
  "y":{"field":"y","type":"quantitative","scale":{"domain":[-1.005,1.015],"nice":false,"zero":false},"axis":{"values":[-1,-0.5,0,0.5,1],"format":".1f","title":null}}}},
 {"data":{"name":"ql"},"transform":[{"filter":"datum.p==6"}],"mark":{"type":"rule","color":"#ff0000","strokeWidth":1,"clip":true},
  "encoding":{"x":{"field":"x1","type":"quantitative"},"y":{"field":"y1","type":"quantitative"},"x2":{"field":"x2"},"y2":{"field":"y2"}}},
 {"data":{"values":[{"t":"Sand"}]},"mark":{"type":"text","fontSize":26,"font":"DejaVu Serif","color":"#000","align":"center","baseline":"middle"},
  "encoding":{"x":{"datum":-1.61,"type":"quantitative"},"y":{"datum":0.669,"type":"quantitative"},"text":{"field":"t"}}},
 {"data":{"values":[{"t":"S"}]},"mark":{"type":"text","fontSize":26,"font":"DejaVu Serif","color":"#000","align":"center","baseline":"middle"},
  "encoding":{"x":{"datum":-0.066,"type":"quantitative"},"y":{"datum":-0.55,"type":"quantitative"},"text":{"field":"t"}}}
]},
{"width":242,"height":245,"layer":[
 {"data":{"name":"siltF"},"mark":{"type":"point"},
  "encoding":{"x":{"field":"x","type":"quantitative","scale":{"domain":[-2.99,2.99],"nice":false,"zero":false},"axis":{"values":[-2,-1,0,1,2],"format":"d","title":"Theoretical quantiles","titleX":106}},
  "y":{"field":"y","type":"quantitative","scale":{"domain":[-1.992,1.442],"nice":false,"zero":false},"axis":{"values":[-1.5,-1,-0.5,0,0.5,1],"format":".1f","title":"Sample quantiles"}}}},
 {"data":{"name":"ql"},"transform":[{"filter":"datum.p==7"}],"mark":{"type":"rule","color":"#ff0000","strokeWidth":1,"clip":true},
  "encoding":{"x":{"field":"x1","type":"quantitative"},"y":{"field":"y1","type":"quantitative"},"x2":{"field":"x2"},"y2":{"field":"y2"}}},
 {"data":{"values":[{"t":"Silt"}]},"mark":{"type":"text","fontSize":26,"font":"DejaVu Serif","color":"#000","align":"center","baseline":"middle"},
  "encoding":{"x":{"datum":-1.728,"type":"quantitative"},"y":{"datum":0.934,"type":"quantitative"},"text":{"field":"t"}}},
 {"data":{"values":[{"t":"F"}]},"mark":{"type":"text","fontSize":26,"font":"DejaVu Serif","color":"#000","align":"center","baseline":"middle"},
  "encoding":{"x":{"datum":-0.144,"type":"quantitative"},"y":{"datum":-1.108,"type":"quantitative"},"text":{"field":"t"}}}
]},
{"width":242,"height":245,"layer":[
 {"data":{"name":"siltB"},"mark":{"type":"point"},
  "encoding":{"x":{"field":"x","type":"quantitative","scale":{"domain":[-2.99,2.99],"nice":false,"zero":false},"axis":{"values":[-2,-1,0,1,2],"format":"d","title":"Theoretical quantiles","titleX":110}},
  "y":{"field":"y","type":"quantitative","scale":{"domain":[-1.955,1.43],"nice":false,"zero":false},"axis":{"values":[-1.5,-1,-0.5,0,0.5,1],"format":".1f","title":null}}}},
 {"data":{"name":"ql"},"transform":[{"filter":"datum.p==8"}],"mark":{"type":"rule","color":"#ff0000","strokeWidth":1,"clip":true},
  "encoding":{"x":{"field":"x1","type":"quantitative"},"y":{"field":"y1","type":"quantitative"},"x2":{"field":"x2"},"y2":{"field":"y2"}}},
 {"data":{"values":[{"t":"Silt"}]},"mark":{"type":"text","fontSize":26,"font":"DejaVu Serif","color":"#000","align":"center","baseline":"middle"},
  "encoding":{"x":{"datum":-1.82,"type":"quantitative"},"y":{"datum":0.935,"type":"quantitative"},"text":{"field":"t"}}},
 {"data":{"values":[{"t":"B"}]},"mark":{"type":"text","fontSize":26,"font":"DejaVu Serif","color":"#000","align":"center","baseline":"middle"},
  "encoding":{"x":{"datum":-0.306,"type":"quantitative"},"y":{"datum":-1.097,"type":"quantitative"},"text":{"field":"t"}}}
]},
{"width":242,"height":245,"layer":[
 {"data":{"name":"siltS"},"mark":{"type":"point"},
  "encoding":{"x":{"field":"x","type":"quantitative","scale":{"domain":[-2.99,2.99],"nice":false,"zero":false},"axis":{"values":[-2,-1,0,1,2],"format":"d","title":"Theoretical quantiles","titleX":116}},
  "y":{"field":"y","type":"quantitative","scale":{"domain":[-1.849,1.359],"nice":false,"zero":false},"axis":{"values":[-1.5,-1,-0.5,0,0.5,1],"format":".1f","title":null}}}},
 {"data":{"name":"ql"},"transform":[{"filter":"datum.p==9"}],"mark":{"type":"rule","color":"#ff0000","strokeWidth":1,"clip":true},
  "encoding":{"x":{"field":"x1","type":"quantitative"},"y":{"field":"y1","type":"quantitative"},"x2":{"field":"x2"},"y2":{"field":"y2"}}},
 {"data":{"values":[{"t":"Silt"}]},"mark":{"type":"text","fontSize":26,"font":"DejaVu Serif","color":"#000","align":"center","baseline":"middle"},
  "encoding":{"x":{"datum":-1.84,"type":"quantitative"},"y":{"datum":0.899,"type":"quantitative"},"text":{"field":"t"}}},
 {"data":{"values":[{"t":"S"}]},"mark":{"type":"text","fontSize":26,"font":"DejaVu Serif","color":"#000","align":"center","baseline":"middle"},
  "encoding":{"x":{"datum":-0.058,"type":"quantitative"},"y":{"datum":-1.035,"type":"quantitative"},"text":{"field":"t"}}}
]}
]
}
